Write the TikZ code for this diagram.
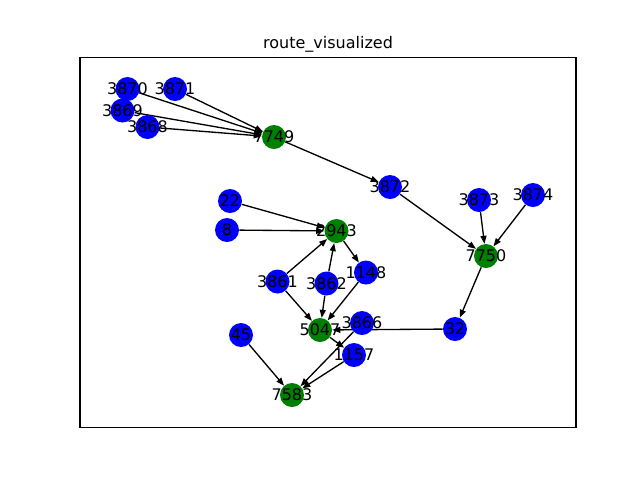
\documentclass[tikz,border=0pt]{standalone}
\usepackage{fontspec}
\setmainfont{DejaVu Sans}
\usetikzlibrary{arrows.meta,backgrounds}
\begin{document}
\begin{tikzpicture}[x=0.75pt,y=-0.75pt,
  vtx/.style={circle,inner sep=0pt,minimum size=18pt,draw=none},
  bnode/.style={vtx,fill={rgb,255:red,0;green,0;blue,255}},
  gnode/.style={vtx,fill={rgb,255:red,0;green,128;blue,0}},
  lbl/.style={font=\fontsize{12pt}{14pt}\selectfont,inner sep=0pt},
  edge/.style={line width=1pt,-{Triangle[length=6pt,width=4.5pt]}},
  frame/.style={line width=0.8pt}]
\useasboundingbox (0,0) rectangle (640,480);
\draw[frame] (80,57.6) rectangle (576,427.2);
\node[lbl] (title) at (328,44) {route\_visualized};
% nodes
\foreach \n/\x/\y/\s in {3870/127.5/89/bnode,3871/175/89/bnode,3869/122.5/110.5/bnode,3868/147.5/127/bnode,
  7749/274/137/gnode,3872/390/187/bnode,3873/479/200/bnode,3874/533/195/bnode,7750/486/256/gnode,
  22/230/201/bnode,8/227/230/bnode,2943/336.5/231/gnode,1148/366/272.5/bnode,3861/277.5/281.5/bnode,
  3862/326.5/283.5/bnode,5047/320/330/gnode,3866/362/323/bnode,32/455/329/bnode,45/241/335/bnode,
  1157/354/355/bnode,7583/292/395/gnode}{
  \node[\s] (n\n) at (\x,\y) {};
  \node[lbl] (l\n) at (n\n) {\n};
}
\begin{scope}[on background layer]
\foreach \a/\b in {3870/7749,3871/7749,3869/7749,3868/7749,7749/3872,3872/7750,3873/7750,3874/7750,
  7750/32,32/5047,22/2943,8/2943,3861/2943,3862/2943,2943/1148,1148/5047,3861/5047,3862/5047,
  5047/1157,3866/7583,1157/7583,45/7583}{
  \draw[edge] (n\a) -- (n\b);
}
\end{scope}
\end{tikzpicture}
\end{document}
